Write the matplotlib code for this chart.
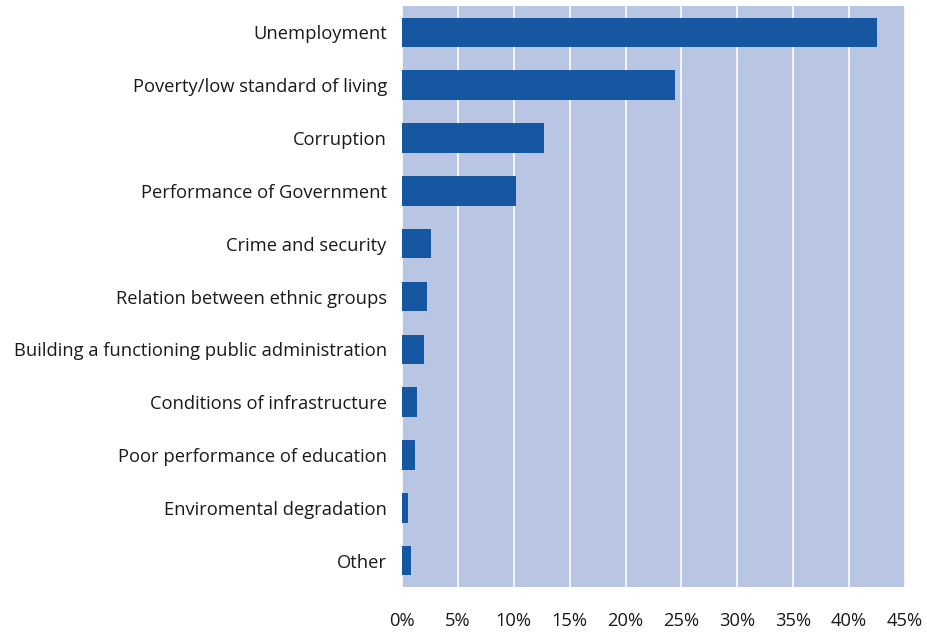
import numpy as np
import matplotlib.pyplot as plt
from matplotlib.ticker import FuncFormatter

# Main problems named by respondents (share of answers, %)
problems = [
    "Unemployment",
    "Poverty/low standard of living",
    "Corruption",
    "Performance of Government",
    "Crime and security",
    "Relation between ethnic groups",
    "Building a functioning public administration",
    "Conditions of infrastructure",
    "Poor performance of education",
    "Enviromental degradation",
    "Other",
]
shares = [42.5, 24.4, 12.7, 10.2, 2.6, 2.2, 2.0, 1.3, 1.2, 0.5, 0.8]
xticks = [0, 5, 10, 15, 20, 25, 30, 35, 40, 45]

plt.rcParams["font.family"] = ["Open Sans", "DejaVu Sans"]

fig = plt.figure(figsize=(9.27, 6.32), dpi=100)
ax = fig.add_axes([0.4337, 0.0712, 0.5426, 0.9193])
ax.set_facecolor("#b8c6e3")

y = np.arange(len(problems))
ax.barh(y, shares, height=0.56, color="#1557a0", zorder=3)

ax.set_xlim(0, 45)
ax.set_ylim(len(problems) - 0.5, -0.5)
ax.set_yticks(y)
ax.set_yticklabels(problems, fontsize=13.2, color="#1a1a1a", va="center_baseline")
ax.set_xticks(xticks)
ax.xaxis.set_major_formatter(FuncFormatter(lambda v, p: f"{v:.0f}%"))
ax.tick_params(axis="x", labelsize=13.2, length=0, pad=18, labelcolor="#1a1a1a")
ax.tick_params(axis="y", length=0, pad=11)

ax.grid(axis="x", color="white", linewidth=1.2, zorder=1)
for s in ax.spines.values():
    s.set_visible(False)

fig.savefig("out.png", dpi=100)
